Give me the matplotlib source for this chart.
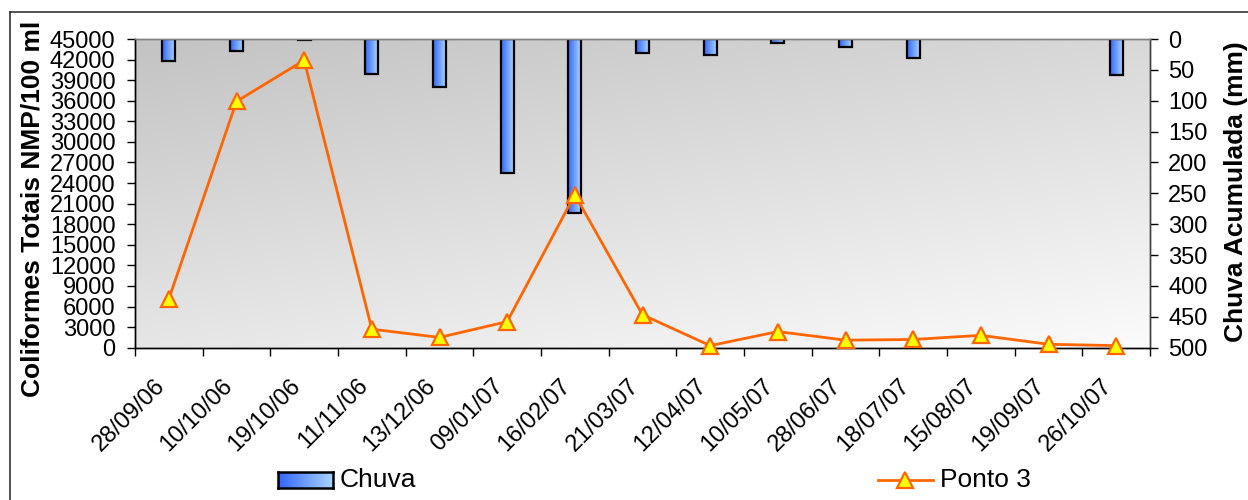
import numpy as np
import matplotlib
matplotlib.use("Agg")
import matplotlib.pyplot as plt
from matplotlib.lines import Line2D

plt.rcParams["font.family"] = ["Liberation Sans", "DejaVu Sans"]

# ---- data --------------------------------------------------------
dates = ["28/09/06", "10/10/06", "19/10/06", "11/11/06", "13/12/06",
         "09/01/07", "16/02/07", "21/03/07", "12/04/07", "10/05/07",
         "28/06/07", "18/07/07", "15/08/07", "19/09/07", "26/10/07"]
ponto3 = [7100, 35900, 41900, 2700, 1500, 3800, 22300, 4800, 300,
          2350, 1100, 1200, 1800, 500, 300]
chuva = [35, 19, 2, 56, 78, 217, 282, 22, 26, 6, 13, 30,
         np.nan, np.nan, 59]

coli_ticks = np.arange(0, 45001, 3000)
chuva_ticks = np.arange(0, 501, 50)

W, H = 1248, 500
fig = plt.figure(figsize=(W / 100, H / 100), dpi=100)
fig.patch.set_facecolor("white")

ax = fig.add_axes([135 / W, 1 - 347.7 / H, (1150 - 135) / W, (347.7 - 39) / H])
ax2 = ax.twinx()
ax.set_zorder(ax2.get_zorder() + 1)
ax.patch.set_visible(False)

x = np.arange(len(dates))

# plot-area background: diagonal grey gradient
gx = np.linspace(0, 1, 200)[None, :]
gy = np.linspace(0, 1, 100)[:, None]
v = (195 + 21 * gx + 35 * gy) / 255.0
bg = np.dstack([v, v, v])
ax2.imshow(bg, extent=[0, 1, 0, 1], transform=ax2.transAxes,
           aspect="auto", zorder=0, interpolation="bilinear")

# rain bars hanging from the top, blue horizontal gradient
c0 = np.array([0x33, 0x66, 0xff]) / 255.0
c1 = np.array([0xa8, 0xd4, 0xff]) / 255.0
t = np.linspace(0, 1, 64)[:, None]
bar_grad = (c0 + (c1 - c0) * t)[None, :, :]
bw = 0.19
bars = ax2.bar(x, chuva, width=bw, bottom=0, facecolor="none",
               edgecolor="black", linewidth=1.6, zorder=3)
for xi, h, b in zip(x, chuva, bars):
    if np.isnan(h):
        continue
    im = ax2.imshow(bar_grad, extent=[xi - bw / 2, xi + bw / 2, h, 0],
                    aspect="auto", zorder=2, interpolation="bilinear")
    im.set_clip_path(b)

ax2.set_xlim(-0.5, len(dates) - 0.5)
ax2.set_ylim(500, 0)
ax2.set_yticks(chuva_ticks)

# coliform line
ax.plot(x, ponto3, color="#ff6600", lw=2, marker="^", ms=11,
        mfc="#ffff00", mec="#ff6600", mew=1.6, zorder=5, clip_on=False)
ax.set_xlim(-0.5, len(dates) - 0.5)
ax.set_ylim(0, 45000)
ax.set_yticks(coli_ticks)

ax.set_xticks(np.arange(-0.5, len(dates), 1))
ax.set_xticklabels([])
for xi, lab in zip(x, dates):
    ax.annotate(lab, xy=(xi, 0), xycoords=("data", "axes fraction"),
                xytext=(-15, -27), textcoords="offset pixels",
                rotation=45, ha="right", va="top", rotation_mode="anchor",
                fontsize=17)

ax.tick_params(axis="x", length=6, width=1, direction="out")
ax.tick_params(axis="y", length=6, width=1, direction="out", pad=8, labelsize=17)
ax2.tick_params(axis="y", length=6, width=1, direction="out", pad=7, labelsize=17)

for a in (ax, ax2):
    a.spines["top"].set_color("#808080")
    a.spines["left"].set_color("black")
    a.spines["bottom"].set_color("black")
    a.spines["right"].set_color("#404040")
    for s in a.spines.values():
        s.set_linewidth(1)

fig.text(33 / W, 1 - 209 / H, "Coliformes Totais NMP/100 ml", rotation=90,
         ha="center", va="center", fontsize=19, fontweight="bold")
fig.text(1236 / W, 1 - 192 / H, "Chuva Acumulada (mm)", rotation=90,
         ha="center", va="center", fontsize=19, fontweight="bold")

# chart border (top and left edges visible)
fig.add_artist(Line2D([10 / W, 1], [1 - 12 / H] * 2, transform=fig.transFigure,
                      color="#333333", lw=1.2))
fig.add_artist(Line2D([10 / W] * 2, [0, 1 - 12 / H], transform=fig.transFigure,
                      color="#333333", lw=1.2))

# legend, drawn by hand
lax = fig.add_axes([278 / W, 1 - 488 / H, 55 / W, 16 / H])
lax.imshow(bar_grad, aspect="auto", extent=[0, 1, 0, 1], interpolation="bilinear")
lax.set_xticks([])
lax.set_yticks([])
for s in lax.spines.values():
    s.set_linewidth(1.8)
fig.text(340 / W, 1 - 480 / H, "Chuva", ha="left", va="center", fontsize=19)

fig.add_artist(Line2D([878 / W, 933 / W], [1 - 480 / H] * 2,
                      transform=fig.transFigure, color="#ff6600", lw=2))
fig.add_artist(Line2D([905 / W], [1 - 480 / H], transform=fig.transFigure,
                      marker="^", ms=11, mfc="#ffff00", mec="#ff6600", mew=1.6,
                      color="#ff6600", lw=0))
fig.text(940 / W, 1 - 480 / H, "Ponto 3", ha="left", va="center", fontsize=19)

fig.savefig("out.png", dpi=100)
